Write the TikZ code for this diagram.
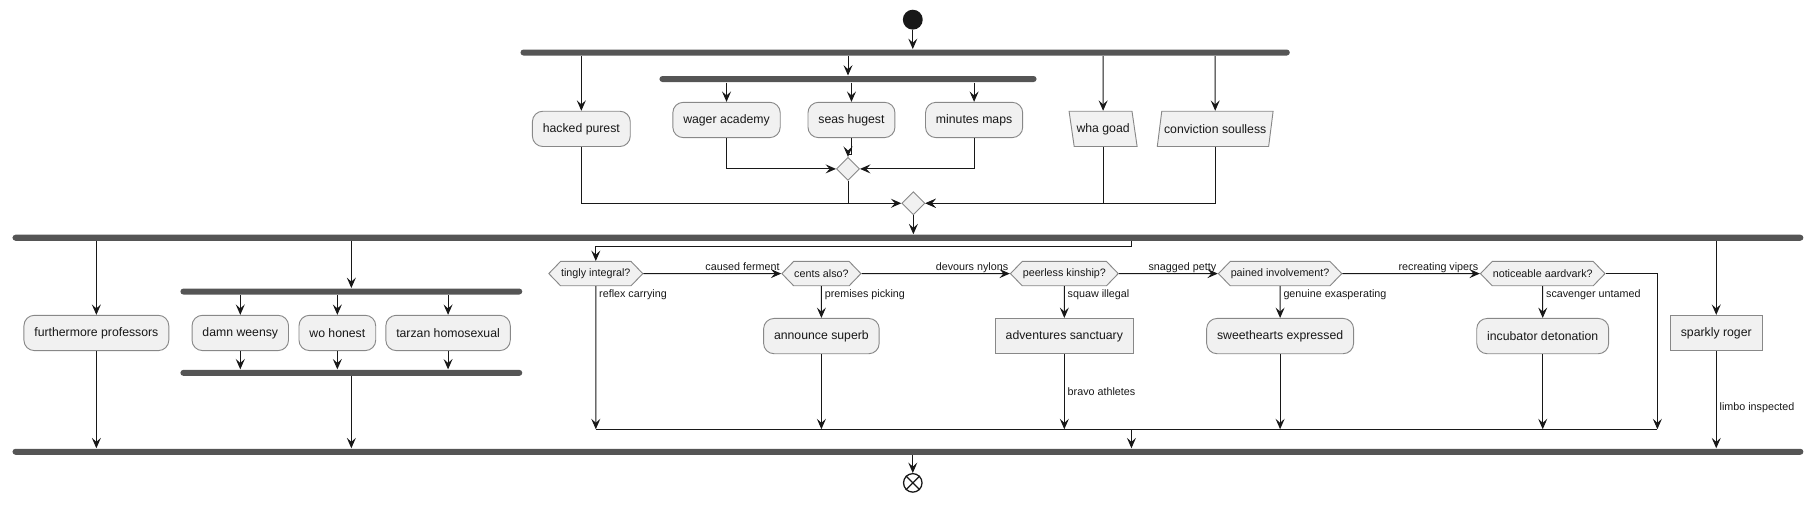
\documentclass[tikz,border=0pt]{standalone}
\usepackage{fontspec}
\setmainfont{Liberation Sans}
\usetikzlibrary{arrows.meta}
\usetikzlibrary{positioning}
\usetikzlibrary{shapes.geometric}
\usetikzlibrary{shapes.symbols}
\definecolor{ink}{HTML}{181818}
\definecolor{boxfill}{HTML}{F1F1F1}
\definecolor{boxline}{HTML}{888888}
\definecolor{barfill}{HTML}{555555}

\begin{document}
\begin{tikzpicture}[->,>={Stealth[length=9pt,width=7.8pt,inset=3.5pt]},x=1pt,y=-1pt,
					color=ink,line width=0.85pt,node distance=54pt,
					font=\fontsize{10.6}{12.7}\selectfont]
					\tikzstyle{act}=[rectangle,rounded corners=9pt,draw=boxline,fill=boxfill,line width=0.8pt,minimum height=30.5pt,inner xsep=9pt]
					\tikzstyle{rbox}=[rectangle,draw=boxline,fill=boxfill,line width=0.8pt,minimum height=30.5pt,inner xsep=9pt]
					\tikzstyle{inbox}=[trapezium,trapezium stretches=true,draw=boxline,fill=boxfill,line width=0.8pt,minimum height=30.5pt,inner xsep=2pt]
					\tikzstyle{hexa}=[signal,signal to=east and west,signal pointer angle=92,draw=boxline,fill=boxfill,line width=0.8pt,minimum height=21pt,inner xsep=0.5pt,inner ysep=1pt,font=\fontsize{9.3}{11}\selectfont]
					\tikzstyle{merge}=[diamond,draw=boxline,fill=boxfill,line width=0.8pt,minimum width=20pt,minimum height=20pt,inner sep=0pt]
					\tikzstyle{bar}=[rectangle,fill=barfill,minimum height=5.2pt,inner sep=0pt,rounded corners=2.6pt]
					\tikzstyle{start}=[circle,fill=ink,minimum size=17.2pt,inner sep=0pt]
					\tikzstyle{stop}=[circle,draw=ink,fill=white,line width=1.1pt,minimum size=16pt,inner sep=0pt]
					\tikzstyle{lbl}=[font=\fontsize{9.3}{11}\selectfont,inner sep=1pt]
					
					\useasboundingbox (0,0) rectangle (1568,436.5);
					
					\node[start]                    (St)  at (789,17)       {};
					\node[bar,minimum width=665pt]  (F_1) at (782.4,45.4)   {};
					\node[act]                      (H_0) at (502.5,111.4)  {hacked purest};
					\node[bar,minimum width=326pt]  (F_2) at (733,68.3)     {};
					\node[act]                      (W_1) at (628,103.7)    {wager academy};
					\node[act]                      (W_2) at (736,103.7)    {seas hugest};
					\node[act]                      (W_3) at (842,103.7)    {minutes maps};
					\node[inbox,trapezium left angle=105,trapezium right angle=75] (G_1) at (953.5,111.4) {wha goad};
					\node[inbox,trapezium left angle=75,trapezium right angle=105] (G_2) at (1050.4,111.4) {conviction soulless};
					\node[merge]                    (M_1) at (733,146)      {};
					\node[merge]                    (M_2) at (789.5,175.7)  {};
					\node[bar,minimum width=1548pt] (F_3) at (784.8,205.5)  {};
					
					\node[act]                      (K_0) at (83.3,287.8)   {furthermore professors};
					\node[bar,minimum width=295.5pt] (F_4) at (303.7,252)   {};
					\node[act]                      (B_1) at (207.7,287.8)  {damn weensy};
					\node[act]                      (B_2) at (291.6,287.8)  {wo honest};
					\node[act]                      (B_3) at (387.3,287.8)  {tarzan homosexual};
					\node[bar,minimum width=295.5pt] (F_5) at (303.7,322.3) {};
					
					\node[hexa]                     (D_0) at (515,236.5)    {tingly integral?};
					\node[hexa]                     (D_1) at (710,236.5)    {cents also?};
					\node[hexa]                     (D_2) at (920,236.5)    {peerless kinship?};
					\node[hexa]                     (D_3) at (1106.5,236.5) {pained involvement?};
					\node[hexa]                     (D_4) at (1333.5,236.5) {noticeable aardvark?};
					\node[act]          (A_1) [below of=D_1]     {announce superb};
					\node[rbox]         (A_2) [below of=D_2]     {adventures sanctuary};
					\node[act]          (A_3) [below of=D_3]     {sweethearts expressed};
					\node[act]          (A_4) [below of=D_4]     {incubator detonation};
					\coordinate (J)   at (978,371);
					\coordinate (C_1) at (1432.6,371);
					
					\node[rbox]                     (R_0) at (1483.5,287.8) {sparkly roger};
					\node[bar,minimum width=1548pt] (F_6) at (784.8,390.5)  {};
					\node[stop]                     (En)  at (789,417.4)    {};
					
					% fork at the top
					\path (St) edge (St |- F_1.north)
					(F_1.south -| H_0) edge (H_0)
					(F_1.south -| F_2) edge (F_2.north)
					(F_1.south -| G_1) edge (G_1)
					(F_1.south -| G_2) edge (G_2)
					(F_2.south -| W_1) edge (W_1)
					(F_2.south -| W_2) edge (W_2)
					(F_2.south -| W_3) edge (W_3);
					\draw (W_1) |- (M_1);
					\draw (W_3) |- (M_1);
					\draw (W_2.south) -- ++(0,14) -| (M_1);
					\draw[-] (M_1) -- (M_1 |- M_2);
					\draw (H_0) |- (M_2);
					\draw (G_1) |- (M_2);
					\draw (G_2) |- (M_2);
					\path (M_2) edge (M_2 |- F_3.north);
					
					% second fork
					\path (F_3.south -| K_0) edge (K_0)
					(K_0) edge (K_0 |- F_6.north)
					(F_3.south -| F_4) edge (F_4.north)
					(F_4.south -| B_1) edge (B_1)
					(F_4.south -| B_2) edge (B_2)
					(F_4.south -| B_3) edge (B_3)
					(B_1) edge (B_1 |- F_5.north)
					(B_2) edge (B_2 |- F_5.north)
					(B_3) edge (B_3 |- F_5.north)
					(F_5.south) edge (F_5.south |- F_6.north)
					(F_3.south -| R_0) edge (R_0)
					(R_0) edge node[lbl,right,pos=0.58,xshift=1.5pt] {limbo inspected} (R_0 |- F_6.north);
					
					% chain of tests
					\draw (F_3.south -| J) -- ++(0,4.5) -| (D_0);
					\path (D_0) edge node[lbl,anchor=base east,at end,yshift=2.5pt] {caused ferment}    (D_1)
					(D_1) edge node[lbl,anchor=base east,at end,yshift=2.5pt] {devours nylons}    (D_2)
					(D_2) edge node[lbl,anchor=base east,at end,yshift=2.5pt] {snagged petty}     (D_3)
					(D_3) edge node[lbl,anchor=base east,at end,yshift=2.5pt] {recreating vipers} (D_4);
					\path (D_0) edge node[lbl,anchor=north west,at start,xshift=1.5pt,yshift=-1.5pt] {reflex carrying}      (D_0 |- J)
					(D_1) edge node[lbl,anchor=north west,at start,xshift=1.5pt,yshift=-1.5pt] {premises picking}     (A_1)
					(D_2) edge node[lbl,anchor=north west,at start,xshift=1.5pt,yshift=-1.5pt] {squaw illegal}        (A_2)
					(D_3) edge node[lbl,anchor=north west,at start,xshift=1.5pt,yshift=-1.5pt] {genuine exasperating} (A_3)
					(D_4) edge node[lbl,anchor=north west,at start,xshift=1.5pt,yshift=-1.5pt] {scavenger untamed}    (A_4)
					(A_1) edge (A_1 |- J)
					(A_2) edge node[lbl,right,xshift=1.5pt] {bravo athletes} (A_2 |- J)
					(A_3) edge (A_3 |- J)
					(A_4) edge (A_4 |- J);
					\draw (D_4) -| (C_1);
					\draw[-] (D_0 |- J) -- (C_1);
					\path (J) edge (J |- F_6.north)
					(F_6.south -| En) edge (En);
					\draw[-,line width=1.1pt] (En.north west) -- (En.south east) (En.north east) -- (En.south west);
					
\end{tikzpicture}
\end{document}
